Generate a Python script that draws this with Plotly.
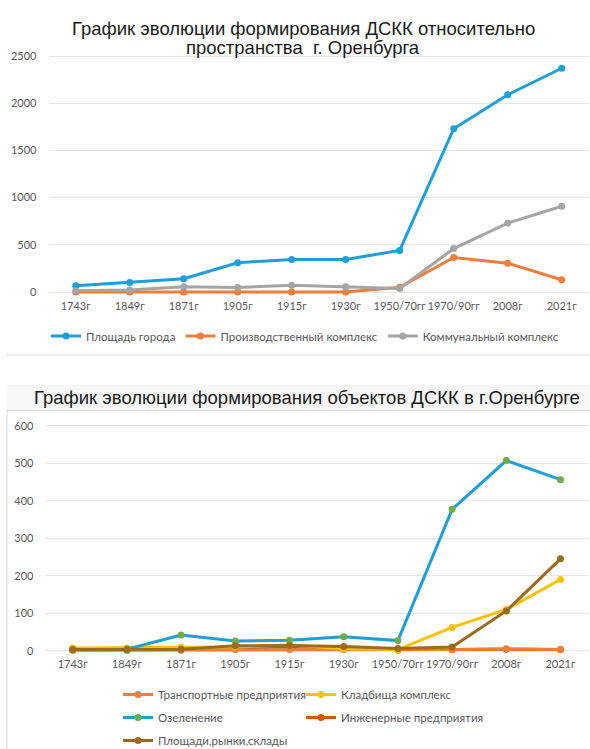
import plotly.graph_objects as go

W, H = 590, 749

# ---------------- data ----------------
categories = ["1743г", "1849г", "1871г", "1905г", "1915г", "1930г",
              "1950/70гг", "1970/90гг", "2008г", "2021г"]

# Top chart
city_area = [65, 100, 140, 310, 345, 345, 440, 1730, 2090, 2370]
industrial = [0, 0, 0, 0, 0, 0, 50, 365, 305, 130]
communal = [14, 20, 55, 48, 72, 56, 38, 460, 730, 908]
top_ticks = [0, 500, 1000, 1500, 2000, 2500]

# Bottom chart
transport = [1, 1, 1, 3, 3, 3, 1, 3, 5, 3]
cemetery = [7, 7, 9, 10, 15, 5, 3, 62, 110, 190]
greening = [3, 4, 42, 26, 28, 37, 27, 377, 507, 456]
engineering = [2, 2, 3, 8, 10, 8, 3, 3, 4, 3]
squares = [3, 3, 4, 13, 14, 11, 6, 10, 106, 245]
bottom_ticks = [0, 100, 200, 300, 400, 500, 600]

title_top_1 = "График эволюции формирования ДСКК относительно"
title_top_2 = "пространства  г. Оренбурга"
title_bottom = "График эволюции формирования объектов ДСКК в г.Оренбурге"

# ---------------- style ----------------
C_BLUE = "#1C9FDB"
C_ORANGE = "#F07D38"
C_GRAY = "#A5A5A5"
C_YELLOW = "#FFC000"
C_GREEN = "#70AD47"
C_ENG = "#C55A11"
C_BROWN = "#A06A1E"
TXT = "#595959"
GRID = "#E2E6E8"
AX_FONT = "Lato"
TITLE_FONT = "Liberation Sans"


def py(px):
    return 1 - px / H


def px_x(px):
    return px / W


fig = go.Figure()


def add(y, name, color, xa, ya, legend, rank, mcolor=None):
    fig.add_trace(go.Scatter(
        x=categories, y=y, name=name, mode="lines+markers",
        line=dict(color=color, width=3),
        marker=dict(color=mcolor or color, size=7),
        xaxis=xa, yaxis=ya, legend=legend, legendrank=rank,
        legendgroup=name, cliponaxis=False, hoverinfo="x+y+name"))


# top chart
add(city_area, "Площадь города", C_BLUE, "x", "y", "legend", 1)
add(industrial, "Производственный комплекс", C_ORANGE, "x", "y", "legend", 2)
add(communal, "Коммунальный комплекс", C_GRAY, "x", "y", "legend", 3)

# bottom chart (engineering drawn first so others cover it)
add(engineering, "Инженерные предприятия", C_ENG, "x2", "y2", "legend3", 2)
add(transport, "Транспортные предприятия", C_ORANGE, "x2", "y2", "legend2", 1)
add(cemetery, "Кладбища комплекс", C_YELLOW, "x2", "y2", "legend3", 1)
add(greening, "Озеленение", C_BLUE, "x2", "y2", "legend2", 2, mcolor=C_GREEN)
add(squares, "Площади,рынки,склады", C_BROWN, "x2", "y2", "legend2", 3)

# axis geometry (pixel calibrated)
# top: 0 at y=292, 2500 at y=56
t_k = (292 - 56) / 2500.0
t_lo, t_hi = -60, 2600
t_bot = 292 + (0 - t_lo) * t_k
t_top = 56 - (t_hi - 2500) * t_k
# bottom: 0 at y=650.7, 600 at y=425.7
b_k = (650.7 - 425.7) / 600.0
b_lo, b_hi = -15, 620
b_bot = 650.7 + (0 - b_lo) * b_k
b_top = 425.7 - (b_hi - 600) * b_k

xaxis_common = dict(type="category", range=[-0.5, 9.5], showgrid=False,
                    zeroline=False, showline=False, ticks="", tickangle=0,
                    automargin=False,
                    tickfont=dict(family=AX_FONT, size=11, color=TXT),
                    fixedrange=True)
yaxis_common = dict(showgrid=True, gridcolor=GRID, gridwidth=1, zeroline=False,
                    showline=False, ticks="outside", ticklen=9,
                    tickcolor="rgba(0,0,0,0)", automargin=False,
                    tickfont=dict(family=AX_FONT, size=11, color=TXT),
                    fixedrange=True)

LEG_FONT = dict(family=AX_FONT, size=11.5, color=TXT)

fig.update_layout(
    width=W, height=H, autosize=False,
    margin=dict(l=0, r=0, t=0, b=0, autoexpand=False),
    paper_bgcolor="white", plot_bgcolor="rgba(0,0,0,0)",
    xaxis=dict(domain=[px_x(48.7), px_x(588.7)], anchor="y", **xaxis_common),
    yaxis=dict(domain=[py(t_bot), py(t_top)], anchor="x", range=[t_lo, t_hi],
               tickvals=top_ticks, **yaxis_common),
    xaxis2=dict(domain=[px_x(45.6), px_x(587.6)], anchor="y2", **xaxis_common),
    yaxis2=dict(domain=[py(b_bot), py(b_top)], anchor="x2", range=[b_lo, b_hi],
                tickvals=bottom_ticks, **yaxis_common),
    legend=dict(orientation="h", x=px_x(46), y=py(336), xanchor="left",
                yanchor="middle", font=LEG_FONT,
                bgcolor="rgba(0,0,0,0)", itemwidth=30, tracegroupgap=0),
    legend2=dict(orientation="v", x=px_x(118), y=py(680), xanchor="left",
                 yanchor="top", font=LEG_FONT,
                 bgcolor="rgba(0,0,0,0)", itemwidth=30, tracegroupgap=4),
    legend3=dict(orientation="v", x=px_x(301), y=py(680), xanchor="left",
                 yanchor="top", font=LEG_FONT,
                 bgcolor="rgba(0,0,0,0)", itemwidth=30, tracegroupgap=4),
    hovermode="closest",
)

# titles
fig.add_annotation(text=title_top_1, x=px_x(303), y=py(28), xref="paper",
                   yref="paper", showarrow=False, xanchor="center",
                   yanchor="middle",
                   font=dict(family=TITLE_FONT, size=18.5, color="#1a1a1a"))
fig.add_annotation(text=title_top_2, x=px_x(303), y=py(48), xref="paper",
                   yref="paper", showarrow=False, xanchor="center",
                   yanchor="middle",
                   font=dict(family=TITLE_FONT, size=18.5, color="#1a1a1a"))
fig.add_annotation(text=title_bottom, x=px_x(307), y=py(397), xref="paper",
                   yref="paper", showarrow=False, xanchor="center",
                   yanchor="middle",
                   font=dict(family=TITLE_FONT, size=18.5, color="#1a1a1a"))

# frames / separators
fig.add_shape(type="rect", xref="paper", yref="paper",
              x0=px_x(7), x1=1, y0=py(410), y1=py(385),
              fillcolor="#F7F7F7", line=dict(width=0), layer="below")
fig.add_shape(type="line", xref="paper", yref="paper",
              x0=px_x(7), x1=1, y0=py(355), y1=py(355),
              line=dict(color="#DADADA", width=1))
fig.add_shape(type="line", xref="paper", yref="paper",
              x0=px_x(7), x1=1, y0=py(410.5), y1=py(410.5),
              line=dict(color="#DADADA", width=1))
fig.add_shape(type="line", xref="paper", yref="paper",
              x0=px_x(7), x1=px_x(7), y0=py(410.5), y1=0,
              line=dict(color="#DADADA", width=1))

fig.write_html(
    "out.html",
    config={"displayModeBar": False},
    post_script="document.body.style.margin='0';"
                "document.body.style.padding='0';",
)
